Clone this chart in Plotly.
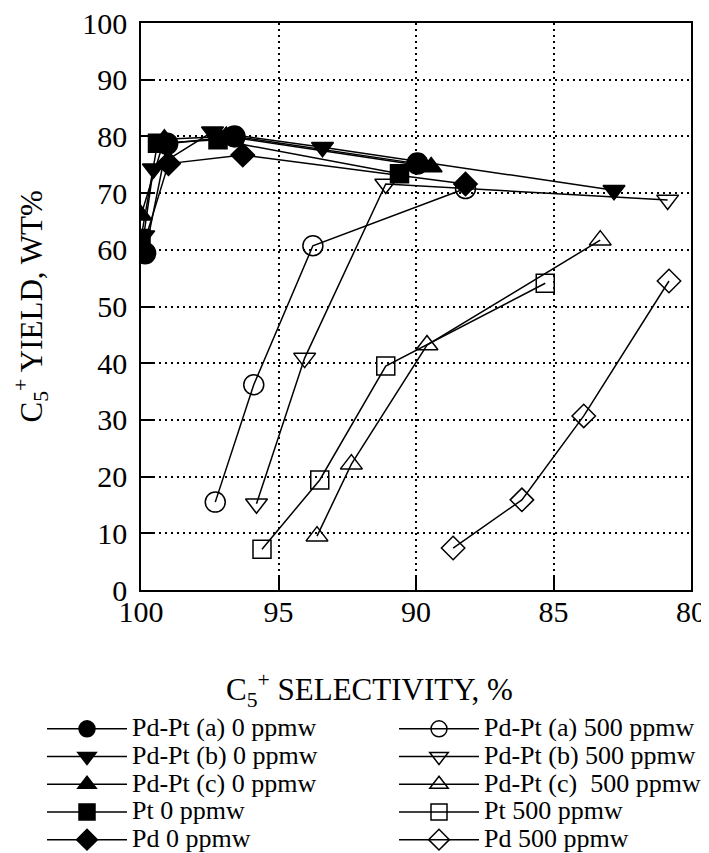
import plotly.graph_objects as go

# C5+ selectivity (%) and C5+ yield (wt%) per catalyst series
a0_x = [99.85, 99.05, 96.6, 89.95]
a0_y = [59.4, 78.7, 80.0, 75.2]
b0_x = [99.9, 99.55, 97.4, 93.4, 82.8]
b0_y = [62.5, 74.3, 80.8, 78.1, 70.5]
c0_x = [100.0, 99.15, 96.9, 89.45]
c0_y = [66.1, 79.5, 80.0, 74.6]
pt0_x = [100.0, 99.4, 97.2, 90.6]
pt0_y = [62.0, 78.8, 79.4, 73.4]
pd0_x = [99.95, 99.0, 96.3, 88.2]
pd0_y = [60.2, 75.2, 76.7, 71.6]

a500_x = [97.3, 95.9, 93.75, 88.2]
a500_y = [15.5, 36.2, 60.7, 70.8]
b500_x = [95.8, 94.05, 91.1, 80.85]
b500_y = [15.2, 40.9, 71.6, 68.8]
c500_x = [93.6, 92.35, 89.6, 83.3]
c500_y = [9.5, 22.2, 43.2, 61.7]
pt500_x = [95.6, 93.5, 91.1, 85.3]
pt500_y = [7.2, 19.4, 39.5, 54.1]
pd500_x = [88.65, 86.15, 83.9, 80.8]
pd500_y = [7.4, 15.9, 30.7, 54.5]

x_ticks = [100, 95, 90, 85, 80]
y_ticks = [0, 10, 20, 30, 40, 50, 60, 70, 80, 90, 100]

FONT = "Liberation Serif"
TICK_SIZE = 30
TITLE_SIZE = 31
LEG_TEXT = 26

filled = [
    ("Pd-Pt (a) 0 ppmw", a0_x, a0_y, "circle", 21),
    ("Pd-Pt (b) 0 ppmw", b0_x, b0_y, "triangle-down", 19),
    ("Pd-Pt (c) 0 ppmw", c0_x, c0_y, "triangle-up", 19),
    ("Pt 0 ppmw", pt0_x, pt0_y, "square", 18),
    ("Pd 0 ppmw", pd0_x, pd0_y, "diamond", 18),
]
hollow = [
    ("Pd-Pt (a) 500 ppmw", a500_x, a500_y, "circle-open", 20),
    ("Pd-Pt (b) 500 ppmw", b500_x, b500_y, "triangle-down-open", 19),
    ("Pd-Pt (c)\u00a0 500 ppmw", c500_x, c500_y, "triangle-up-open", 19),
    ("Pt 500 ppmw", pt500_x, pt500_y, "square-open", 18),
    ("Pd 500 ppmw", pd500_x, pd500_y, "diamond-open", 18),
]

fig = go.Figure()
for group, legend_id in ((hollow, "legend2"), (filled, "legend")):
    for name, xs, ys, sym, size in group:
        fig.add_trace(go.Scatter(
            x=xs, y=ys, mode="lines+markers", legend=legend_id,
            name='<span style="font-size:%dpx">%s</span>' % (LEG_TEXT, name),
            line=dict(color="black", width=1.5),
            marker=dict(symbol=sym, size=size, color="black",
                        line=dict(color="black", width=1.5)),
        ))

axis_common = dict(
    showline=True, linecolor="black", linewidth=1.5, mirror=True,
    ticks="inside", ticklen=13, tickwidth=1.5, tickcolor="black",
    showgrid=True, gridcolor="black", gridwidth=1.6, griddash="1.6px,4.4px",
    zeroline=False, ticklabeloverflow="allow",
    tickfont=dict(family=FONT, size=TICK_SIZE, color="black"),
)

fig.update_xaxes(
    range=[100, 80], tickvals=x_ticks, ticktext=[str(v) for v in x_ticks],
    ticklabelstandoff=-6, **axis_common,
)
fig.update_yaxes(
    range=[0, 100], tickvals=y_ticks, ticktext=[str(v) for v in y_ticks],
    ticklabelstandoff=6, **axis_common,
)

legend_common = dict(
    orientation="v", xref="container", yref="container",
    xanchor="left", yanchor="top", itemwidth=80,
    font=dict(family=FONT, size=19, color="black"),
    bgcolor="rgba(0,0,0,0)", traceorder="normal",
)

fig.update_layout(
    width=709, height=853,
    margin=dict(l=133, r=26, t=15, b=271, autoexpand=False),
    paper_bgcolor="white", plot_bgcolor="white",
    font=dict(family=FONT, color="black"),
    showlegend=True,
    legend=dict(x=34 / 709, y=1 - 702 / 853, **legend_common),
    legend2=dict(x=386 / 709, y=1 - 702 / 853, **legend_common),
    annotations=[
        dict(text="C<sub>5</sub><sup>+</sup> SELECTIVITY, %",
             xref="paper", yref="paper", x=0.416, y=-0.176,
             xanchor="center", yanchor="middle", showarrow=False,
             font=dict(family=FONT, size=TITLE_SIZE, color="black")),
        dict(text="C<sub>5</sub><sup>+</sup> YIELD, WT%",
             xref="paper", yref="paper", x=-0.2, y=0.5, textangle=-90,
             xanchor="center", yanchor="middle", showarrow=False,
             font=dict(family=FONT, size=TITLE_SIZE, color="black")),
    ],
)

fig.write_html("out.html")
